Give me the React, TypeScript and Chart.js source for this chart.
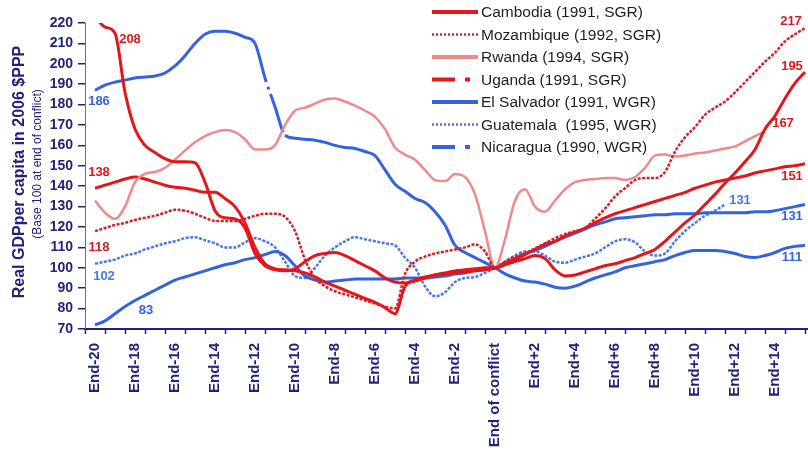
import React, { useEffect, useRef } from "react";
import { Chart, registerables } from "chart.js";

Chart.register(...registerables);

const FONT = '"Liberation Sans", Arial, sans-serif';
const NAVY = "#22227a";

// half-year steps, years relative to end of conflict
const YEARS = [
  -20, -19.5, -19, -18.5, -18, -17.5, -17, -16.5, -16, -15.5,
  -15, -14.5, -14, -13.5, -13, -12.5, -12, -11.5, -11, -10.5,
  -10, -9.5, -9, -8.5, -8, -7.5, -7, -6.5, -6, -5.5,
  -5, -4.5, -4, -3.5, -3, -2.5, -2, -1.5, -1, -0.5,
  0,
  0.5, 1, 1.5, 2, 2.5, 3, 3.5, 4, 4.5, 5,
  5.5, 6, 6.5, 7, 7.5, 8, 8.5, 9, 9.5, 10,
  10.5, 11, 11.5, 12, 12.5, 13, 13.5, 14, 14.5, 15,
  15.5,
];

const TICK_YEARS = [-20, -18, -16, -14, -12, -10, -8, -6, -4, -2, 0, 2, 4, 6, 8, 10, 12, 14];
const TICK_LABELS = [
  "End-20", "End-18", "End-16", "End-14", "End-12", "End-10", "End-8", "End-6", "End-4", "End-2",
  "End of conflict", "End+2", "End+4", "End+6", "End+8", "End+10", "End+12", "End+14",
];

const Y_TICKS = [70, 80, 90, 100, 110, 120, 130, 140, 150, 160, 170, 180, 190, 200, 210, 220];

const cambodia = [
  223, 218, 215, 186, 168, 160, 156.5, 153.5, 152, 152,
  151.5, 142, 128, 124.5, 124, 119.5, 107, 101, 99, 98.5,
  99.5, 103, 106, 107, 107.5, 106, 103.5, 101, 98.5, 95,
  93, 92.5, 93.5, 95, 96.5, 97.5, 98.5, 99, 99.5, 100,
  100,
  101.5, 103, 104.5, 106, 104.5, 99, 96, 96.5, 98, 99.5,
  101, 102, 103.5, 105, 107, 109, 113, 117.5, 122, 126,
  131, 136, 141.5, 146.5, 152, 158, 168, 174.5, 183, 190.5,
  196,
];

const mozambique = [
  118, 119.5, 121, 122, 123.5, 124.5, 125.5, 127, 128.5, 128,
  126.5, 124.5, 123, 123, 123, 124, 125.5, 126.5, 126.5, 125,
  118, 104, 95, 91, 88.5, 87, 85.5, 84, 82.5, 81,
  80, 97, 103, 105.5, 107, 108, 109, 110, 111.5, 108,
  100,
  103, 105.5, 107, 109.5, 112, 114.5, 116.5, 118, 119.5, 124,
  129, 135, 139, 143, 144, 144, 147, 157, 164, 169,
  175, 178.5, 181.5, 186, 191, 196, 201, 205.5, 211, 214.5,
  217.5,
];

const rwanda = [
  133, 127, 124, 130, 142, 146, 147, 149, 153, 157.5,
  161.5, 164.5, 166.5, 167.5, 166.5, 163, 158, 158, 160, 170,
  177, 178.5, 180.5, 182.5, 183, 181.5, 179.5, 177, 174, 168,
  159, 155.5, 153, 148, 143, 142.5, 146, 144.5, 136, 118,
  100,
  114, 133, 138.5, 130, 127.5, 133, 138.5, 142, 143, 143.5,
  144, 144, 143, 144.5, 149, 155, 155.5, 154.5, 155, 156,
  156.5, 157.5, 158.5, 159.5, 162, 164.5, 167,
];

const uganda = [
  139, 140.5, 142, 143.5, 144.5, 143.5, 142, 140.5, 139.5, 139,
  138, 137, 137, 134, 130, 122, 110, 102, 99.5, 99,
  98.5, 97.5, 95.5, 93, 91, 89, 87, 85, 83, 80.5,
  77.5, 91, 94, 95.5, 96.5, 97, 97.5, 98, 98.5, 99,
  100,
  102, 104, 106.5, 109, 111.5, 113, 115.5, 117.5, 119.5, 122,
  124.5, 126.5, 128, 129.5, 131, 132.5, 134, 135.5, 137, 139,
  140.5, 142, 143, 144, 145, 146.5, 147.5, 148.5, 149.5, 150,
  151,
];

const elSalvador = [
  72, 74, 77.5, 81, 84, 86.5, 89, 91.5, 94, 95.5,
  97, 98.5, 100, 101.5, 102.5, 104, 105, 106.5, 108, 106,
  101, 96, 94, 93, 93.5, 94, 94.5, 94.5, 94.5, 94.5,
  94.5, 95, 95, 95, 95.5, 96, 97, 97.5, 98.5, 99,
  100,
  102.5, 104.5, 107, 108.5, 110.5, 113, 115, 117, 119, 121,
  122.5, 124, 124.5, 125, 125.5, 126, 126, 126.5, 126.5, 126.5,
  127, 127, 127, 127, 127, 127.5, 127.5, 128, 129, 130,
  131,
];

const guatemala = [
  102, 103, 104, 106, 107, 109, 110.5, 112, 113, 114.5,
  115, 113.5, 112, 110, 110, 112.5, 114.5, 113, 110, 103,
  96, 95, 100, 106, 110, 113, 115, 114, 113, 112,
  111, 105, 100, 91, 86, 88, 93, 95, 95.5, 97.5,
  100,
  103, 106, 108, 108, 106, 103, 102.5, 104, 105.5, 107,
  110, 113, 114, 112.5, 108, 106, 107, 113, 118, 122,
  125.5, 128, 131,
];

const nicaragua = [
  187, 189.5, 191, 192, 193, 193.5, 194, 195.5, 199, 204,
  210, 214.5, 216, 216, 215, 213, 210, 193, 179, 165,
  163.5, 163, 162.5, 161.5, 160, 159, 158.5, 157, 155, 148,
  141, 137.5, 134, 132, 127.5, 121, 111, 107.5, 105, 102.5,
  100,
  97, 95, 93.5, 93, 92, 90.5, 90, 91, 93, 95,
  96.5, 98, 100, 101, 102, 103, 104, 106, 107.5, 108.5,
  108.5, 108.5, 108, 107, 105.5, 105, 106, 107.5, 109.5, 110.5,
  111,
];

const RED = "#e3161b";
const RED_DOT = "#d42028";
const SALMON = "#f08a8a";
const BLUE = "#3563dc";
const BLUE_DOT = "#4a78e6";

const DASH_DOT = [40, 5, 3, 5];
const DOTS = [3, 1.5];

type Series = {
  name: string;
  values: number[];
  color: string;
  width: number;
  dash?: number[];
  dashDot?: boolean;
};

const SERIES: Series[] = [
  { name: "Cambodia (1991, SGR)", values: cambodia, color: RED, width: 3 },
  { name: "Mozambique (1992, SGR)", values: mozambique, color: RED_DOT, width: 2.5, dash: DOTS },
  { name: "Rwanda (1994, SGR)", values: rwanda, color: SALMON, width: 2.5 },
  { name: "Uganda (1991, SGR)", values: uganda, color: RED, width: 3, dashDot: true },
  { name: "El Salvador (1991, WGR)", values: elSalvador, color: BLUE, width: 3 },
  { name: "Guatemala  (1995, WGR)", values: guatemala, color: BLUE_DOT, width: 2.5, dash: DOTS },
  { name: "Nicaragua (1990, WGR)", values: nicaragua, color: BLUE, width: 3, dashDot: true },
];

// value labels attached to first / last point of a series
const VALUE_LABELS = [
  { s: 0, end: false, text: "208", dx: 35, dy: 23 },
  { s: 6, end: false, text: "186", dx: 4, dy: 11 },
  { s: 3, end: false, text: "138", dx: 4, dy: -16 },
  { s: 1, end: false, text: "118", dx: 4, dy: 16 },
  { s: 5, end: false, text: "102", dx: 9, dy: 13 },
  { s: 4, end: false, text: "83", dx: 51, dy: -14 },
  { s: 1, end: true, text: "217", dx: -14, dy: -7 },
  { s: 0, end: true, text: "195", dx: -13, dy: -6 },
  { s: 2, end: true, text: "167", dx: 18, dy: -8 },
  { s: 3, end: true, text: "151", dx: -13, dy: 13 },
  { s: 5, end: true, text: "131", dx: 15, dy: -4 },
  { s: 4, end: true, text: "131", dx: -13, dy: 12 },
  { s: 6, end: true, text: "111", dx: -13, dy: 12 },
];

const decorPlugin = {
  id: "decor",
  afterDatasetsDraw(chart: any) {
    const { ctx, chartArea, scales } = chart;
    const xs = scales.x;
    ctx.save();
    // x-axis minor tick marks between categories
    ctx.strokeStyle = NAVY;
    ctx.lineWidth = 1.5;
    for (let k = -20.5; k <= 15.6; k += 1) {
      const px = Math.round(xs.getPixelForValue(k)) + 0.5;
      ctx.beginPath();
      ctx.moveTo(px, chartArea.bottom);
      ctx.lineTo(px, chartArea.bottom + 5);
      ctx.stroke();
    }
    // value labels
    ctx.font = `bold 13px ${FONT}`;
    ctx.textAlign = "center";
    ctx.textBaseline = "middle";
    VALUE_LABELS.forEach((l) => {
      const meta = chart.getDatasetMeta(l.s);
      const pts = meta.data;
      const p = l.end ? pts[pts.length - 1] : pts[0];
      const ser = SERIES[l.s];
      ctx.fillStyle = ser.color === SALMON ? RED : ser.color;
      ctx.fillText(l.text, p.x + l.dx, p.y + l.dy);
    });
    ctx.restore();
  },
  afterDraw(chart: any) {
    const { ctx } = chart;
    ctx.save();
    // y-axis titles
    ctx.fillStyle = NAVY;
    ctx.textAlign = "center";
    ctx.textBaseline = "middle";
    ctx.translate(20, 172);
    ctx.rotate(-Math.PI / 2);
    ctx.font = `bold 16px ${FONT}`;
    ctx.fillText("Real GDPper capita in 2006 $PPP", 0, 0);
    ctx.font = `12px ${FONT}`;
    ctx.fillText("(Base 100 at end of conflict)", 8, 18);
    ctx.restore();

    // legend
    ctx.save();
    const x0 = 432;
    const x1 = 478;
    SERIES.forEach((s, i) => {
      const y = 12 + i * 22.5;
      ctx.strokeStyle = s.color;
      ctx.lineWidth = s.dash ? 2.5 : 4;
      if (s.dash) ctx.setLineDash([2, 2]);
      else if (s.dashDot) ctx.setLineDash([23, 10, 5, 10]);
      else ctx.setLineDash([]);
      ctx.beginPath();
      ctx.moveTo(x0, y);
      ctx.lineTo(x1, y);
      ctx.stroke();
      ctx.setLineDash([]);
      ctx.fillStyle = "#1e1e1e";
      ctx.font = `15.5px ${FONT}`;
      ctx.textAlign = "left";
      ctx.textBaseline = "middle";
      ctx.fillText(s.name, x1 + 3, y + 1);
    });
    ctx.restore();
  },
};

export default function App() {
  const ref = useRef<HTMLCanvasElement | null>(null);

  useEffect(() => {
    if (!ref.current) return;
    const datasets = SERIES.map((s) => ({
      label: s.name,
      data: s.values.map((v, i) => ({ x: YEARS[i], y: v })),
      borderColor: s.color,
      backgroundColor: s.color,
      borderWidth: s.width,
      borderDash: s.dash || [],
      pointRadius: 0,
      fill: false,
      cubicInterpolationMode: "monotone" as const,
      segment: s.dashDot
        ? {
            borderDash: (c: any) =>
              Math.abs(c.p1.y - c.p0.y) > 18 ? DASH_DOT : undefined,
          }
        : undefined,
    }));

    const chart = new Chart(ref.current, {
      type: "line",
      data: { datasets },
      options: {
        animation: false,
        responsive: false,
        maintainAspectRatio: false,
        layout: { padding: { top: 23, right: 1, left: 0, bottom: 0 } },
        plugins: { legend: { display: false }, tooltip: { enabled: false } },
        scales: {
          x: {
            type: "linear",
            min: -20.5,
            max: 15.6,
            grid: { display: false, drawTicks: false },
            border: { display: true, color: NAVY, width: 2 },
            afterBuildTicks: (s: any) => {
              s.ticks = TICK_YEARS.map((v) => ({ value: v }));
            },
            afterFit: (s: any) => {
              s.height = 123;
            },
            ticks: {
              autoSkip: false,
              minRotation: 90,
              maxRotation: 90,
              padding: 14,
              color: NAVY,
              font: { family: FONT, size: 15, weight: "bold" },
              callback: (v: any) => {
                const i = TICK_YEARS.indexOf(Number(v));
                return i >= 0 ? TICK_LABELS[i] : "";
              },
            },
          },
          y: {
            min: 70,
            max: 220,
            afterBuildTicks: (s: any) => {
              s.ticks = Y_TICKS.map((v) => ({ value: v }));
            },
            afterFit: (s: any) => {
              s.width = 85;
            },
            grid: {
              display: true,
              drawOnChartArea: false,
              drawTicks: true,
              tickLength: 7,
              color: NAVY,
              lineWidth: 1.5,
            },
            border: { display: true, color: "#6a6aa6", width: 1 },
            ticks: {
              padding: 5,
              color: NAVY,
              font: { family: FONT, size: 14, weight: "bold" },
            },
          },
        },
      },
      plugins: [decorPlugin],
    });
    return () => chart.destroy();
  }, []);

  return (
    <div style={{ position: "fixed", left: 0, top: 0, width: 808, height: 452, background: "#fff" }}>
      <canvas ref={ref} width={808} height={452} style={{ display: "block" }} />
    </div>
  );
}
